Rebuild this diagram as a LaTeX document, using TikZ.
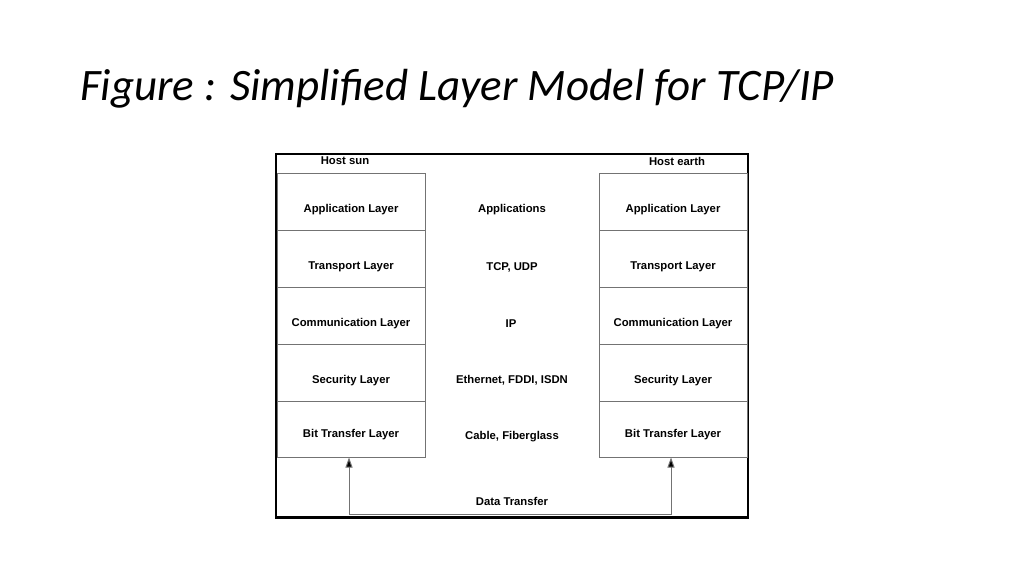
\documentclass[tikz,border=0pt]{standalone}
\usepackage{fontspec}
\setmainfont{Liberation Sans}
\newfontfamily\titlefont{Carlito}
\usetikzlibrary{arrows.meta}
\begin{document}
\begin{tikzpicture}[x=1pt,y=-1pt,
  lbl/.style={font=\fontsize{11.3}{13}\selectfont\bfseries, inner sep=0pt},
  layerbox/.style={draw=black!55, line width=1pt, minimum width=148pt, minimum height=57pt, inner sep=0pt},
  conn/.style={draw=black!55, line width=1pt},
  tip/.style={-{Triangle[width=7pt,length=10pt,fill=black]}}
]
\useasboundingbox (0,0) rectangle (1024,576);
\fill[white] (0,0) rectangle (1024,576);
\node[anchor=base west, inner sep=0pt, font=\titlefont\itshape\fontsize{45}{50}\selectfont] (title) at (80,100) {Figure : Simplified Layer Model for TCP/IP};
% frame
\draw[line width=1.2pt] (276,154) rectangle (748,517);
\draw[line width=2.5pt] (275.4,154) -- (748.6,154);
\draw[line width=3pt] (275.4,517) -- (748.6,517);
\node[lbl] (hs) at (345,161) {Host sun};
\node[lbl] (he) at (677,161) {Host earth};
% left stack
\node[layerbox, label={[lbl,yshift=-8pt]center:Application Layer}] (l1) at (351,201.5) {};
\node[layerbox, label={[lbl,yshift=-8pt]center:Transport Layer}] (l2) at (351,258.5) {};
\node[layerbox, label={[lbl,yshift=-8pt]center:Communication Layer}] (l3) at (351,315.5) {};
\node[layerbox, label={[lbl,yshift=-8pt]center:Security Layer}] (l4) at (351,372.5) {};
\node[layerbox, minimum height=56pt, label={[lbl,yshift=-6pt]center:Bit Transfer Layer}] (l5) at (351,429) {};
% right stack
\node[layerbox, label={[lbl,yshift=-8pt]center:Application Layer}] (r1) at (673,201.5) {};
\node[layerbox, label={[lbl,yshift=-8pt]center:Transport Layer}] (r2) at (673,258.5) {};
\node[layerbox, label={[lbl,yshift=-8pt]center:Communication Layer}] (r3) at (673,315.5) {};
\node[layerbox, label={[lbl,yshift=-8pt]center:Security Layer}] (r4) at (673,372.5) {};
\node[layerbox, minimum height=56pt, label={[lbl,yshift=-6pt]center:Bit Transfer Layer}] (r5) at (673,429) {};
% middle
\node[lbl] (m1) at (512,210) {Applications};
\node[lbl] (m2) at (512,267) {TCP, UDP};
\node[lbl] (m3) at (511,324) {IP};
\node[lbl] (m4) at (512,380) {Ethernet, FDDI, ISDN};
\node[lbl] (m5) at (512,437) {Cable, Fiberglass};
\node[lbl] (dt) at (512,501) {Data Transfer};
% connectors
\coordinate (bl) at (349,514.5);
\coordinate (br) at (671,514.5);
\draw[conn] (bl) -- (br);
\draw[conn, tip] (bl) -- (bl |- l5.south);
\draw[conn, tip] (br) -- (br |- r5.south);
\end{tikzpicture}
\end{document}
